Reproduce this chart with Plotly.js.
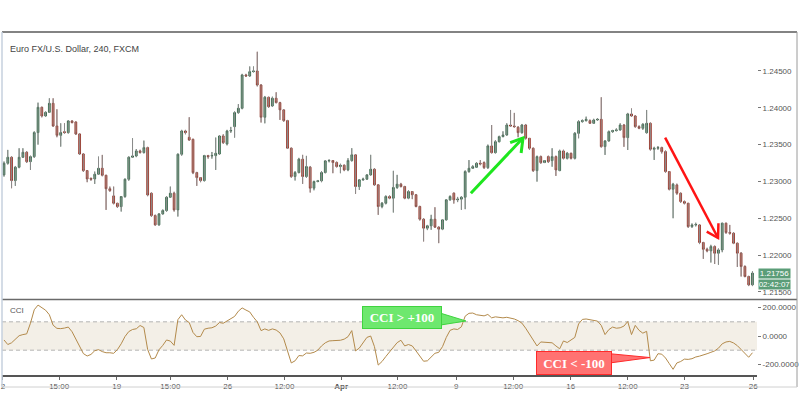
<!DOCTYPE html>
<html><head><meta charset="utf-8">
<script src="https://cdn.plot.ly/plotly-3.0.1.min.js"></script>
<style>html,body{margin:0;padding:0;background:#fff}#chart{width:800px;height:416px}</style>
</head><body><div id="chart"></div>
<script>
const chartTitle = 'Euro FX/U.S. Dollar, 240, FXCM';
const openP = [
1.23089,1.23247,1.23328,1.23012,1.23193,1.23328,1.23396,1.23269,1.23337,1.23663,
1.24006,1.23889,1.23938,1.24060,1.23753,1.23626,1.23676,1.23663,1.23821,1.23807,
1.23645,1.23373,1.23147,1.23043,1.23034,1.23098,1.23179,1.23084,1.22901,1.22804,
1.22704,1.22659,1.22795,1.23030,1.23328,1.23346,1.23414,1.23392,1.23459,1.22840,
1.22537,1.22411,1.22560,1.22605,1.22786,1.22840,1.22614,1.23369,1.23685,1.23599,
1.23572,1.23120,1.23052,1.23012,1.23351,1.23346,1.23351,1.23373,1.23617,1.23509,
1.23685,1.23744,1.23934,1.23993,1.24445,1.24431,1.24490,1.24499,1.24309,1.23871,
1.24142,1.24025,1.24129,1.24070,1.23971,1.23826,1.23451,1.23067,1.23121,1.23302,
1.23067,1.23193,1.22909,1.22999,1.23008,1.23121,1.23279,1.23284,1.23257,1.23202,
1.23220,1.23157,1.23284,1.23361,1.22931,1.23022,1.23031,1.23089,1.23166,1.22954,
1.22660,1.22705,1.22796,1.22773,1.22918,1.22963,1.22931,1.22773,1.22863,1.22820,
1.22660,1.22488,1.22366,1.22398,1.22488,1.22380,1.22353,1.22479,1.22750,1.22841,
1.22750,1.22760,1.22786,1.23134,1.23179,1.23192,1.23247,1.23256,1.23188,1.23482,
1.23391,1.23540,1.23608,1.23631,1.23766,1.23753,1.23735,1.23662,1.23766,1.23586,
1.23450,1.23147,1.23337,1.23256,1.23337,1.23283,1.23337,1.23147,1.23414,1.23314,
1.23382,1.23314,1.23653,1.23812,1.23825,1.23825,1.23789,1.23834,1.23843,1.23473,
1.23550,1.23676,1.23690,1.23699,1.23766,1.23595,1.23916,1.23888,1.23744,1.23721,
1.23662,1.23789,1.23437,1.23450,1.23459,1.23405,1.23134,1.22894,1.22953,1.22840,
1.22727,1.22704,1.22388,1.22410,1.22410,1.22171,1.22080,1.22058,1.22117,1.22026,
1.22071,1.22434,1.22307,1.22298,1.22162,1.22027,1.21846,1.21710,1.21597];
const highP = [
1.23270,1.23428,1.23340,1.23210,1.23450,1.23450,1.23410,1.23350,1.23680,1.24069,
1.24015,1.23950,1.24128,1.24128,1.23979,1.23789,1.23789,1.23830,1.23830,1.23815,
1.23650,1.23382,1.23150,1.23050,1.23134,1.23337,1.23360,1.23090,1.22930,1.22930,
1.22710,1.22800,1.23040,1.23340,1.23586,1.23440,1.23430,1.23554,1.23470,1.22850,
1.22550,1.22570,1.22620,1.22800,1.22930,1.22860,1.23380,1.23700,1.23700,1.23871,
1.23580,1.23130,1.23060,1.23360,1.23360,1.23400,1.23595,1.23630,1.23640,1.23700,
1.23740,1.23950,1.24050,1.24460,1.24460,1.24560,1.24560,1.24760,1.24320,1.24160,
1.24150,1.24150,1.24210,1.24080,1.23980,1.23835,1.23460,1.23140,1.23320,1.23361,
1.23347,1.23210,1.23010,1.23020,1.23140,1.23290,1.23300,1.23290,1.23270,1.23240,
1.23230,1.23315,1.23451,1.23370,1.23030,1.23050,1.23100,1.23361,1.23180,1.22960,
1.22720,1.22810,1.22810,1.23144,1.23089,1.22980,1.22940,1.22880,1.22870,1.22830,
1.22670,1.22500,1.22410,1.22547,1.22650,1.22390,1.22490,1.22760,1.22810,1.22850,
1.22790,1.22800,1.23150,1.23290,1.23220,1.23260,1.23290,1.23270,1.23500,1.23766,
1.23560,1.23620,1.23680,1.23789,1.23970,1.23930,1.23750,1.23780,1.23780,1.23590,
1.23460,1.23350,1.23350,1.23290,1.23350,1.23450,1.23350,1.23430,1.23430,1.23400,
1.23390,1.23670,1.23830,1.23840,1.23879,1.23840,1.23850,1.23860,1.24142,1.23560,
1.23690,1.23700,1.23720,1.23789,1.23780,1.23930,1.23990,1.23900,1.23760,1.23790,
1.23970,1.23800,1.23470,1.23480,1.23470,1.23420,1.23140,1.22980,1.22970,1.22850,
1.22740,1.22710,1.22430,1.22440,1.22420,1.22180,1.22100,1.22140,1.22130,1.22090,
1.22440,1.22440,1.22410,1.22310,1.22170,1.22040,1.21860,1.21720,1.21780];
const lowP = [
1.23066,1.23230,1.22908,1.22940,1.23180,1.23320,1.23250,1.23156,1.23320,1.23500,
1.23870,1.23880,1.23930,1.23740,1.23600,1.23473,1.23650,1.23650,1.23790,1.23630,
1.23360,1.23130,1.22990,1.23010,1.22967,1.23090,1.23070,1.22614,1.22860,1.22690,
1.22640,1.22592,1.22780,1.23010,1.23320,1.23330,1.23380,1.23380,1.22800,1.22520,
1.22400,1.22400,1.22550,1.22590,1.22780,1.22592,1.22524,1.23350,1.23640,1.23550,
1.23100,1.22940,1.22990,1.23000,1.23310,1.23310,1.23156,1.23360,1.23510,1.23490,
1.23660,1.23595,1.23920,1.23980,1.24420,1.24420,1.24480,1.24290,1.23800,1.23789,
1.24000,1.24010,1.24060,1.23835,1.23810,1.23440,1.23050,1.23013,1.23110,1.22967,
1.23050,1.22850,1.22880,1.22990,1.22990,1.23110,1.23260,1.23112,1.23190,1.23112,
1.23140,1.23140,1.23270,1.22832,1.22886,1.23010,1.23020,1.23080,1.22940,1.22547,
1.22637,1.22690,1.22760,1.22579,1.22900,1.22920,1.22760,1.22760,1.22760,1.22650,
1.22470,1.22186,1.22340,1.22344,1.22370,1.22163,1.22340,1.22470,1.22740,1.22700,
1.22720,1.22615,1.22624,1.23120,1.23170,1.23190,1.23220,1.23170,1.23170,1.23380,
1.23380,1.23530,1.23600,1.23620,1.23740,1.23730,1.23600,1.23650,1.23570,1.23430,
1.23130,1.22998,1.23240,1.23250,1.23250,1.23200,1.23075,1.23140,1.23300,1.23300,
1.23300,1.23300,1.23586,1.23800,1.23815,1.23780,1.23780,1.23825,1.23460,1.23360,
1.23540,1.23660,1.23680,1.23690,1.23470,1.23427,1.23880,1.23730,1.23710,1.23700,
1.23650,1.23420,1.23292,1.23430,1.23380,1.23120,1.22880,1.22501,1.22820,1.22710,
1.22690,1.22370,1.22370,1.22390,1.22150,1.21950,1.22040,1.21900,1.21880,1.21870,
1.22040,1.22290,1.22280,1.22150,1.21840,1.21710,1.21700,1.21580,1.21580];
const closeP = [
1.23247,1.23328,1.23012,1.23193,1.23328,1.23396,1.23269,1.23337,1.23663,1.24006,
1.23889,1.23938,1.24060,1.23753,1.23626,1.23663,1.23663,1.23821,1.23798,1.23645,
1.23373,1.23147,1.23034,1.23030,1.23098,1.23179,1.23084,1.22901,1.22876,1.22704,
1.22659,1.22795,1.23030,1.23328,1.23346,1.23414,1.23392,1.23459,1.22817,1.22537,
1.22411,1.22560,1.22605,1.22786,1.22840,1.22614,1.23369,1.23685,1.23663,1.23563,
1.23120,1.23052,1.23012,1.23351,1.23337,1.23351,1.23382,1.23617,1.23527,1.23685,
1.23690,1.23934,1.23993,1.24445,1.24431,1.24490,1.24499,1.24309,1.23871,1.24142,
1.24015,1.24129,1.24070,1.23971,1.23826,1.23451,1.23067,1.23121,1.23302,1.23067,
1.23202,1.22909,1.22999,1.23008,1.23121,1.23279,1.23284,1.23257,1.23202,1.23220,
1.23157,1.23284,1.23361,1.22931,1.23022,1.23031,1.23089,1.23166,1.22954,1.22660,
1.22705,1.22796,1.22773,1.22918,1.22963,1.22931,1.22773,1.22863,1.22820,1.22660,
1.22488,1.22366,1.22398,1.22488,1.22380,1.22353,1.22479,1.22750,1.22796,1.22750,
1.22760,1.22786,1.23134,1.23179,1.23201,1.23247,1.23238,1.23188,1.23482,1.23391,
1.23540,1.23608,1.23631,1.23766,1.23753,1.23744,1.23662,1.23766,1.23586,1.23450,
1.23147,1.23337,1.23256,1.23283,1.23269,1.23337,1.23156,1.23414,1.23314,1.23382,
1.23314,1.23653,1.23812,1.23825,1.23843,1.23789,1.23834,1.23843,1.23473,1.23550,
1.23676,1.23690,1.23699,1.23766,1.23595,1.23916,1.23888,1.23744,1.23721,1.23775,
1.23789,1.23437,1.23450,1.23459,1.23405,1.23134,1.22894,1.22962,1.22840,1.22727,
1.22704,1.22388,1.22410,1.22415,1.22171,1.22080,1.22058,1.22117,1.22026,1.22071,
1.22434,1.22307,1.22298,1.22162,1.22027,1.21846,1.21710,1.21597,1.21756];
const cciValues = [
-28,-60,-48,-22,2,10,15,90,185,218,
198,182,150,76,54,52,56,63,30,-25,
-78,-124,-141,-130,-104,-96,-110,-118,-118,-122,
-96,-55,-4,31,46,51,74,60,-95,-162,
-155,-97,-66,-28,-36,-66,115,150,113,95,
25,-5,-3,48,55,58,70,95,90,105,
118,138,175,198,183,170,132,100,38,50,
40,50,42,22,-20,-100,-190,-175,-138,-140,
-120,-122,-115,-100,-70,-48,-35,-33,-33,-30,
-22,-5,38,-105,-85,-45,-10,0,-75,-205,
-180,-145,-110,-75,-47,-30,-70,-60,-70,-105,
-140,-178,-175,-150,-122,-115,-75,-10,40,50,
46,65,140,160,162,150,148,142,152,128,
135,132,128,132,128,120,108,91,55,10,
-30,-70,-42,-44,-46,-48,-70,-90,-35,-46,
-28,-10,85,117,120,115,115,105,75,10,
45,63,55,58,70,102,10,75,40,20,
33,-175,-170,-125,-128,-155,-195,-235,-190,-180,
-163,-165,-160,-148,-142,-136,-125,-115,-105,-86,
-55,-42,-38,-49,-68,-95,-125,-150,-118];
const timeTickPos = [-0.3, 14.6, 29.8, 44, 59.2, 74.2, 89.2, 104.1, 119.6, 134.7, 149.9, 165, 180, 198.2];
const timeTickText = ['2','15:00','19','15:00','26','12:00','<b>Apr</b>','12:00','9','12:00','16','12:00','23','26'];
const priceTicks = [1.215, 1.22, 1.225, 1.23, 1.235, 1.24, 1.245];
const cciTicks = [-200, 0, 200];
const cciTickText = ['-200.0000', '0.0000', '200.0000'];
const cciBand = [-100, 100];
const lastPriceText = '1.21756';
const lastPrice = 1.21756;
const countdownText = '02:42:07';
const upCallout = {text: 'CCI &gt; +100', x: 105.4, y: 134};
const downCallout = {text: 'CCI &lt; -100', x: 150.7, y: -187};

const idx = openP.map((_, i) => i);

const wicks = {
  type: 'ohlc', x: idx, open: openP, high: highP, low: lowP, close: closeP,
  xaxis: 'x', yaxis: 'y', tickwidth: 0, hoverinfo: 'skip',
  increasing: {line: {color: '#8c8c8c', width: 1}},
  decreasing: {line: {color: '#8c8c8c', width: 1}}
};
const bodies = {
  type: 'candlestick', x: idx, open: openP, high: highP, low: lowP, close: closeP,
  xaxis: 'x', yaxis: 'y', hoverinfo: 'skip',
  increasing: {fillcolor: '#4a9669', line: {color: 'rgba(28,80,50,0.7)', width: 1}},
  decreasing: {fillcolor: '#e0503a', line: {color: 'rgba(125,25,14,0.7)', width: 1}}
};
const cciTrace = {
  type: 'scatter', mode: 'lines', x: idx, y: cciValues, xaxis: 'x', yaxis: 'y2',
  line: {color: '#b38a4b', width: 1}, hoverinfo: 'skip'
};

const RB = (797 - 2) / 755;
const BB = (375 - 387) / 343;
const SEP = (375 - 299.5) / 343;

function seg(a, b) { return 'M' + a[0] + ',' + a[1] + ' L' + b[0] + ',' + b[1]; }
const gA = [123.5, 1.22839], gB = [137.3, 1.23590];
const rA = [174.9, 1.23594], rB = [188.9, 1.22233];

const shapes = [
  {type: 'rect', xref: 'paper', x0: 0, x1: 1, yref: 'y2', y0: cciBand[0], y1: cciBand[1], fillcolor: '#f3efe7', line: {width: 0}, layer: 'below'},
  {type: 'line', xref: 'paper', x0: 0, x1: 1, yref: 'y2', y0: cciBand[1], y1: cciBand[1], line: {color: '#b4b4b4', width: 1, dash: '4px,3px'}, layer: 'below'},
  {type: 'line', xref: 'paper', x0: 0, x1: 1, yref: 'y2', y0: cciBand[0], y1: cciBand[0], line: {color: '#b4b4b4', width: 1, dash: '4px,3px'}, layer: 'below'},
  {type: 'line', xref: 'paper', yref: 'paper', x0: 0, x1: RB, y0: 1, y1: 1, line: {color: '#5a5a5a', width: 1.5}},
  {type: 'line', xref: 'paper', yref: 'paper', x0: 0, x1: RB, y0: SEP, y1: SEP, line: {color: '#6a6a6a', width: 1.5}},
  {type: 'line', xref: 'paper', yref: 'paper', x0: RB, x1: RB, y0: BB, y1: 1, line: {color: '#9a9a9a', width: 1}},
  {type: 'line', xref: 'paper', yref: 'paper', x0: 0, x1: RB, y0: BB, y1: BB, line: {color: '#d0d0d0', width: 1}},
  {type: 'line', xref: 'paper', yref: 'paper', x0: 0, x1: 0, y0: BB, y1: 1, line: {color: '#c6d0de', width: 1.5}},
  {type: 'path', xref: 'x', yref: 'y', path: seg(gA, gB), line: {color: '#1ee61e', width: 3}},
  {type: 'path', xref: 'x', yref: 'y', path: 'M133.9,1.23526 L137.3,1.2359 L136.8,1.23386', line: {color: '#1ee61e', width: 3}},
  {type: 'path', xref: 'x', yref: 'y', path: seg(rA, rB), line: {color: '#ff1414', width: 2.5}},
  {type: 'path', xref: 'x', yref: 'y', path: 'M185.9,1.22318 L188.9,1.22233 L189.0,1.22432', line: {color: '#ff1414', width: 2.5}},
  {type: 'path', xref: 'x', yref: 'y2', path: 'M115.6,160 L122.2,106 L115.6,78 Z', fillcolor: '#6ee86e', line: {color: '#3fd43f', width: 1}},
  {type: 'path', xref: 'x', yref: 'y2', path: 'M160.3,-125 L170.9,-152 L160.3,-190 Z', fillcolor: '#ff7272', line: {color: '#ff2a2a', width: 1}}
];

const annotations = [
  {xref: 'paper', yref: 'paper', x: 0.008, y: 0.949, xanchor: 'left', yanchor: 'middle', showarrow: false,
   text: chartTitle, font: {family: 'Liberation Sans, Arial, sans-serif', size: 9, color: '#444'}},
  {xref: 'paper', yref: 'paper', x: 0.008, y: 0.1895, xanchor: 'left', yanchor: 'middle', showarrow: false,
   text: 'CCI', font: {family: 'Liberation Sans, Arial, sans-serif', size: 8, color: '#555'}},
  {xref: 'x', yref: 'y2', x: upCallout.x, y: upCallout.y, showarrow: false, text: '<b>' + upCallout.text + '</b>',
   width: 78, height: 21, bgcolor: '#6ee86e', bordercolor: '#3fd43f', borderwidth: 1, borderpad: 0,
   font: {family: 'Liberation Serif, Times New Roman, serif', size: 13, color: '#ffffff'}},
  {xref: 'x', yref: 'y2', x: downCallout.x, y: downCallout.y, showarrow: false, text: '<b>' + downCallout.text + '</b>',
   width: 74, height: 22, bgcolor: '#ff7272', bordercolor: '#ff2a2a', borderwidth: 1, borderpad: 0,
   font: {family: 'Liberation Serif, Times New Roman, serif', size: 13, color: '#ffffff'}},
  {xref: 'paper', yref: 'y', x: 1, y: lastPrice, xanchor: 'left', yanchor: 'middle', xshift: 1, showarrow: false,
   text: lastPriceText, width: 31, height: 9, bgcolor: '#5b9d78', borderpad: 0,
   font: {family: 'Liberation Sans, Arial, sans-serif', size: 8, color: '#ffffff'}},
  {xref: 'paper', yref: 'y', x: 1, y: lastPrice, xanchor: 'left', yanchor: 'middle', xshift: 1, yshift: -11, showarrow: false,
   text: countdownText, width: 31, height: 9, bgcolor: '#5b9d78', borderpad: 0,
   font: {family: 'Liberation Sans, Arial, sans-serif', size: 8, color: '#ffffff'}}
];

const layout = {
  width: 800, height: 416,
  margin: {l: 2, r: 43, t: 32, b: 41, pad: 0},
  paper_bgcolor: '#ffffff', plot_bgcolor: '#ffffff',
  showlegend: false, dragmode: false, hovermode: false,
  font: {family: 'Liberation Sans, Arial, sans-serif', size: 8, color: '#555'},
  xaxis: {range: [-0.53, 199.2], anchor: 'y2', tickmode: 'array', tickvals: timeTickPos, ticktext: timeTickText,
          ticks: 'outside', ticklen: 3, tickcolor: '#666', showgrid: false, zeroline: false,
          showline: true, linecolor: '#555', linewidth: 1.5, rangeslider: {visible: false},
          tickfont: {size: 8, color: '#555'}},
  yaxis: {domain: [0.2216, 1], range: [1.21405, 1.25028], side: 'right', anchor: 'x',
          tickmode: 'array', tickvals: priceTicks, tickformat: '.5f',
          ticks: 'outside', ticklen: 3, tickcolor: '#777', showgrid: false, zeroline: false, showline: false,
          tickfont: {size: 8, color: '#555'}},
  yaxis2: {domain: [0, 0.2187], range: [-275, 254], side: 'right', anchor: 'x',
           tickmode: 'array', tickvals: cciTicks, ticktext: cciTickText,
           ticks: 'outside', ticklen: 3, tickcolor: '#777', showgrid: false, zeroline: false, showline: false,
           tickfont: {size: 8, color: '#555'}},
  shapes: shapes,
  annotations: annotations
};

Plotly.newPlot('chart', [wicks, bodies, cciTrace], layout, {staticPlot: true, displayModeBar: false});
</script>
</body></html>
